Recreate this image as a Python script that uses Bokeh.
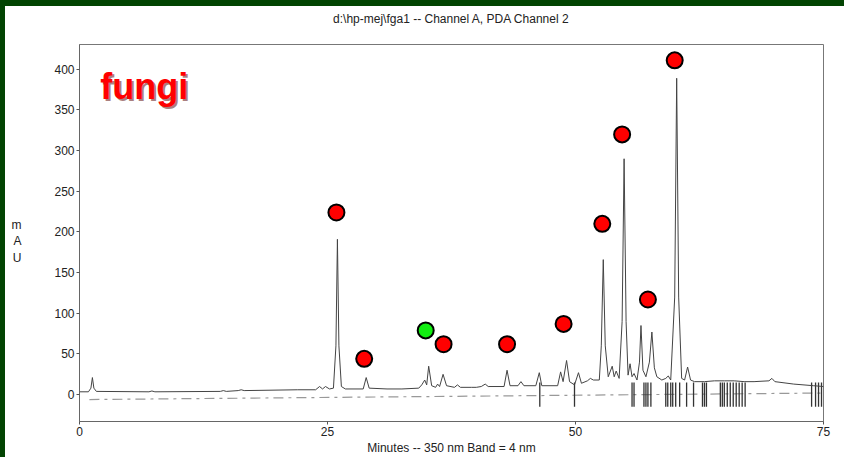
from bokeh.plotting import figure
from bokeh.models import Range1d, FixedTicker, Label, Title, Axis
from bokeh.embed import file_html
from bokeh.resources import INLINE

# ---- data ----
trace_t = [0.0, 0.9, 1.15, 1.3, 1.45, 1.7, 7.0, 7.3, 7.6, 14.2, 14.5, 14.8, 16.0, 16.3, 16.6,
           22.0, 23.8, 24.2, 24.5, 24.8, 25.2, 25.6, 25.85, 26.0, 26.15, 26.4, 26.8, 28.6, 28.9,
           29.2, 31.0, 32.5, 34.2, 34.5, 34.8, 35.0, 35.2, 35.5, 35.9, 36.1, 36.3, 36.65, 37.0,
           37.8, 38.1, 38.4, 39.5, 40.0, 40.5, 40.9, 41.2, 42.8, 43.1, 43.4, 44.2, 44.5, 44.8,
           46.0, 46.35, 46.6, 48.2, 48.5, 48.75, 49.1, 49.4, 49.9, 50.3, 50.6, 51.2, 51.5, 51.8,
           52.4, 52.6, 52.8, 53.0, 53.3, 53.7, 53.9, 54.1, 54.4, 54.7, 54.9, 55.1, 55.3, 55.5,
           55.7, 55.9, 56.2, 56.45, 56.6, 56.8, 57.1, 57.45, 57.7, 57.95, 58.2, 58.7, 59.1, 59.35,
           59.6, 60.0, 60.2, 60.4, 60.7, 61.0, 61.3, 61.6, 62.0, 63.0, 64.0, 65.0, 66.0, 67.0,
           68.0, 69.5, 69.8, 70.1, 72.0, 74.0, 75.0]
trace_mau = [3.5, 3.5, 8, 21, 8, 4, 3.5, 4.5, 3.5, 4, 5, 4, 5, 6, 5,
             6, 6, 10, 7, 10, 7, 8, 60, 191, 60, 10, 7, 7, 21,
             8, 7, 7, 8, 12, 18, 12, 35, 11, 9, 13, 10, 25, 11,
             9, 12, 9, 9, 9, 10, 13, 10, 10, 30, 11, 11, 16, 11,
             11, 27, 11, 11, 28, 16, 42, 16, 12, 27, 14, 17, 20, 18,
             18, 60, 166, 60, 22, 35, 22, 29, 20, 90, 290, 90, 24, 38,
             22, 26, 18, 40, 85, 30, 22, 40, 77, 33, 22, 18, 20, 23,
             18, 120, 389, 120, 20, 18, 34, 18, 16, 16, 17, 17, 17, 16,
             16, 17, 20, 16, 13, 11, 10]

red_t = [25.9, 28.7, 36.7, 43.1, 48.8, 52.7, 54.7, 57.3, 60.0]
red_mau = [224, 44, 62, 62, 87, 210, 320, 117, 411]
green_t = [34.9]
green_mau = [79]

mark_t = [46.4, 49.9, 55.7, 55.9, 56.9, 57.1, 57.3, 57.6, 59.1, 59.3, 59.6, 59.8, 60.1, 60.5,
          61.2, 61.9, 62.8, 63.0, 63.2, 64.6, 64.8, 65.0, 65.3, 65.6, 65.9, 66.2, 66.5, 66.8,
          67.1, 73.8, 74.2, 74.5, 74.8]

dash_t = [1.0, 75.0]
dash_mau = [-6, 2]

y_ticks = [0, 50, 100, 150, 200, 250, 300, 350, 400]
x_ticks = [0, 25, 50, 75]

FONT = "Liberation Sans"
INK = "#222222"

p = figure(width=839, height=451, output_backend="svg", toolbar_location=None,
           x_range=Range1d(0, 75), y_range=Range1d(-33, 430.5),
           min_border_left=74, min_border_right=21, min_border_top=38, min_border_bottom=33)
p.background_fill_color = "white"
p.border_fill_color = "white"
p.outline_line_color = "#777777"
p.grid.visible = False

# spacer (closest to the frame) then the real title above it
spacer = Title(text=" ", align="center", text_font=FONT, text_font_size="1px",
               text_color="white", standoff=16)
p.add_layout(spacer, "above")
t = Title(text="d:\\hp-mej\\fga1 -- Channel A, PDA Channel 2", align="center",
          text_font=FONT, text_font_size="12px", text_font_style="normal",
          text_color=INK, standoff=0)
p.add_layout(t, "above")

for ax in (p.xaxis, p.yaxis):
    ax.axis_line_color = "#666666"
    ax.major_tick_line_color = "#555555"
    ax.major_tick_in = 0
    ax.minor_tick_line_color = None
    ax.major_label_text_font = FONT
    ax.major_label_text_font_size = "12px"
    ax.major_label_text_color = INK
    ax.axis_label_text_font = FONT
    ax.axis_label_text_font_size = "12px"
    ax.axis_label_text_font_style = "normal"
    ax.axis_label_text_color = INK
p.xaxis.ticker = FixedTicker(ticks=x_ticks)
p.yaxis.ticker = FixedTicker(ticks=y_ticks)
p.xaxis.major_tick_out = 3
p.xaxis.major_label_standoff = 2
p.xaxis.axis_label = "Minutes -- 350 nm Band = 4 nm"
p.xaxis.axis_label_standoff = 2
p.yaxis.major_tick_out = 3
p.yaxis.major_label_standoff = 2
p.yaxis.axis_label = " \nm\nA\nU"
p.yaxis.axis_label_standoff = 30
if "axis_label_orientation" in Axis.properties():
    p.yaxis.axis_label_orientation = "horizontal"

# dashed baseline
p.line(dash_t, dash_mau, line_color="#999999", line_width=1.2, line_dash="10 5 3 5")

# integration marks
p.segment(x0=mark_t, y0=[-15] * len(mark_t), x1=mark_t, y1=[15] * len(mark_t),
          line_color="#333333", line_width=1.3)

# chromatogram trace
p.line(trace_t, trace_mau, line_color="#444444", line_width=1)

# markers
p.scatter(red_t, red_mau, size=16, fill_color="#ff0000", line_color="black", line_width=2)
p.scatter(green_t, green_mau, size=16, fill_color="#11ee11", line_color="black", line_width=2)

p.add_layout(Label(x=2.1, y=379, text="fungi", text_font=FONT, text_font_size="36px",
                   text_font_style="bold", text_color="#550000", text_alpha=0.5,
                   text_baseline="alphabetic", x_offset=2, y_offset=-2))
p.add_layout(Label(x=2.1, y=379, text="fungi", text_font=FONT, text_font_size="36px",
                   text_font_style="bold", text_color="#ff0000",
                   text_baseline="alphabetic"))

html = file_html(p, INLINE)
css = ("<style>html{overflow:hidden;background:#ffffff;}"
       "body{overflow:hidden;box-sizing:border-box;margin:0 !important;"
       "padding:6px 0 0 5px !important;background:"
       "linear-gradient(#024402,#024402) 0 0/100% 6px no-repeat,"
       "linear-gradient(#024402,#024402) 0 0/5px 100% no-repeat,#ffffff !important;}"
       "</style></head>")
html = html.replace("</head>", css, 1)
open("out.html", "w").write(html)
